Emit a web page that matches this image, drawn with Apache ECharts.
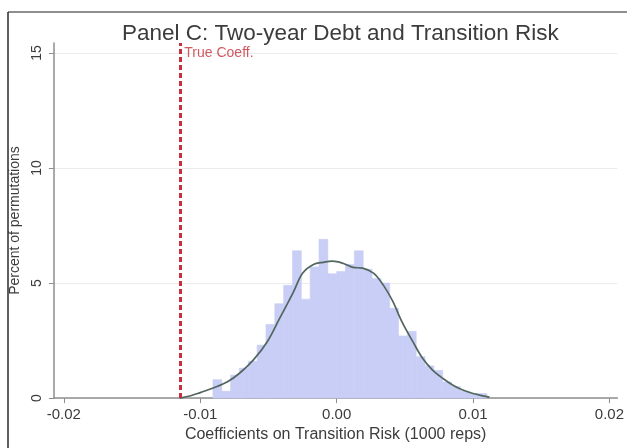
<!DOCTYPE html>
<html>
<head>
<meta charset="utf-8">
<script src="https://cdn.jsdelivr.net/npm/echarts@6/dist/echarts.min.js"></script>
<style>
  html, body { margin: 0; padding: 0; background: #ffffff; }
  #chart { width: 627px; height: 448px; }
</style>
</head>
<body>
<div id="chart"></div>
<script>
// Permutation histogram: equal-width bins starting at binStart, percent of permutations per bin
const binStart = -0.00907;
const binWidth = 0.000648;
const binPercents = [0.8, 0.3, 1.0, 1.3, 1.6, 2.3, 3.2, 4.1, 4.9, 6.4, 4.3, 5.7, 6.9, 5.4, 5.5,
                     5.8, 6.4, 5.6, 5.2, 5.0, 3.9, 2.7, 2.9, 1.8, 1.4, 1.2, 0.7, 0.5, 0.3, 0.2, 0.2];

// Kernel density of the permuted coefficients, scaled to percent
const kdeX = [-0.0115, -0.0107, -0.0100, -0.0090, -0.0080, -0.0071, -0.0061, -0.0051, -0.0042, -0.0032,
              -0.0025, -0.0017, -0.0010, -0.0003, 0.0005, 0.0012, 0.0019, 0.0027, 0.0034, 0.0041,
              0.0048, 0.0056, 0.0063, 0.0070, 0.0078, 0.0085, 0.0092, 0.0100, 0.0107, 0.0112];
const kdeY = [0.00, 0.10, 0.24, 0.45, 0.71, 1.09, 1.66, 2.44, 3.44, 4.57,
              5.43, 5.81, 5.90, 5.95, 5.85, 5.68, 5.65, 5.43, 4.93, 4.22,
              3.30, 2.44, 1.73, 1.24, 0.85, 0.57, 0.36, 0.20, 0.10, 0.04];

// Estimated coefficient from the actual data
const trueCoeff = -0.0115;
const trueLabel = 'True Coeff.';

// Axis ticks and labels
const xTicks = [-0.02, -0.01, 0, 0.01, 0.02];
const xTickLabels = ['-0.02', '-0.01', '0.00', '0.01', '0.02'];
const yTicks = [0, 5, 10, 15];
const yTickLabels = ['0', '5', '10', '15'];

const titleText = 'Panel C: Two-year Debt and Transition Risk';
const xTitle = 'Coefficients on Transition Risk (1000 reps)';
const yTitle = 'Percent of permutations';

const FONT = '"Liberation Sans", Arial, Helvetica, sans-serif';
const AXIS_GRAY = '#8e8e8e';
const TEXT_GRAY = '#3c3c3c';
const RED = '#c5303a';

const binData = binPercents.map((v, i) => [binStart + i * binWidth, binStart + (i + 1) * binWidth, v]);
const kdeData = kdeX.map((x, i) => [x, kdeY[i]]);

function pickLabel(value, ticks, labels) {
  let best = 0;
  for (let i = 1; i < ticks.length; i++) {
    if (Math.abs(ticks[i] - value) < Math.abs(ticks[best] - value)) best = i;
  }
  return labels[best];
}

const chart = echarts.init(document.getElementById('chart'), null, { renderer: 'canvas' });

chart.setOption({
  backgroundColor: '#ffffff',
  animation: false,
  textStyle: { fontFamily: FONT },
  title: {
    text: titleText,
    left: 117,
    top: 17,
    textStyle: { fontFamily: FONT, fontSize: 22.5, fontWeight: 'normal', color: TEXT_GRAY }
  },
  graphic: [
    { type: 'line', shape: { x1: 8, y1: 12, x2: 627, y2: 12 }, style: { stroke: '#6a6a6a', lineWidth: 1.5 } },
    { type: 'line', shape: { x1: 8, y1: 12, x2: 8, y2: 448 }, style: { stroke: '#2a2a2a', lineWidth: 1.5 } }
  ],
  grid: { left: 52, right: 9, top: 43, bottom: 43, containLabel: false },
  xAxis: {
    type: 'value',
    min: -0.02073,
    max: 0.02058,
    name: xTitle,
    nameLocation: 'middle',
    nameGap: 26,
    nameTextStyle: { fontFamily: FONT, fontSize: 16, color: TEXT_GRAY },
    axisLine: { show: true, onZero: false, lineStyle: { color: AXIS_GRAY, width: 1.5 } },
    axisTick: { show: true, inside: false, length: 5, customValues: xTicks, lineStyle: { color: AXIS_GRAY, width: 1 } },
    axisLabel: {
      customValues: xTicks,
      margin: 9,
      fontSize: 15,
      color: TEXT_GRAY,
      fontFamily: FONT,
      formatter: v => pickLabel(v, xTicks, xTickLabels)
    },
    splitLine: { show: false }
  },
  yAxis: {
    type: 'value',
    min: 0,
    max: 15.43,
    name: yTitle,
    nameLocation: 'middle',
    nameGap: 27,
    nameRotate: 90,
    nameTextStyle: { fontFamily: FONT, fontSize: 14, color: TEXT_GRAY },
    axisLine: { show: true, onZero: false, lineStyle: { color: AXIS_GRAY, width: 1.5 } },
    axisTick: { show: true, inside: false, length: 5, customValues: yTicks, lineStyle: { color: AXIS_GRAY, width: 1 } },
    axisLabel: {
      customValues: yTicks,
      rotate: 90,
      margin: 10,
      fontSize: 14,
      color: TEXT_GRAY,
      fontFamily: FONT,
      formatter: v => pickLabel(v, yTicks, yTickLabels)
    },
    splitLine: { show: true, lineStyle: { color: '#ececec', width: 1 } }
  },
  series: [
    {
      name: 'histogram',
      type: 'custom',
      z: 2,
      data: binData,
      encode: { x: [0, 1], y: 2 },
      renderItem: function (params, api) {
        const topLeft = api.coord([api.value(0), api.value(2)]);
        const bottomRight = api.coord([api.value(1), 0]);
        return {
          type: 'rect',
          shape: {
            x: topLeft[0],
            y: topLeft[1],
            width: bottomRight[0] - topLeft[0],
            height: bottomRight[1] - topLeft[1]
          },
          style: { fill: '#c8cef5', stroke: '#c8cef5', lineWidth: 0.6 }
        };
      }
    },
    {
      name: 'kdensity',
      type: 'line',
      z: 3,
      data: kdeData,
      smooth: 0.35,
      showSymbol: false,
      symbol: 'none',
      lineStyle: { color: '#52665f', width: 1.7 },
      markLine: {
        silent: true,
        symbol: 'none',
        precision: 6,
        label: { show: false },
        lineStyle: { color: RED, width: 3, type: [5, 3] },
        data: [{ xAxis: trueCoeff }]
      }
    },
    {
      name: 'trueCoeffLabel',
      type: 'scatter',
      z: 4,
      data: [[trueCoeff, 15.0]],
      symbolSize: 1,
      itemStyle: { color: 'rgba(0,0,0,0)' },
      label: {
        show: true,
        position: 'right',
        distance: 4,
        formatter: trueLabel,
        fontFamily: FONT,
        fontSize: 14,
        color: RED
      }
    }
  ]
});
</script>
</body>
</html>
